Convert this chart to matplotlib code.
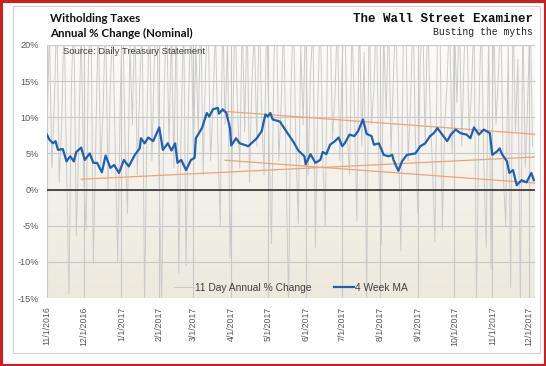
import matplotlib
matplotlib.use('Agg')
import matplotlib.pyplot as plt
import matplotlib.dates as mdates
from matplotlib.ticker import FuncFormatter
from matplotlib.patches import Rectangle
import numpy as np
import pandas as pd

# 4 week moving average
ma_dates = ['11/1/2016', '11/3/2016', '11/6/2016', '11/8/2016', '11/10/2016', '11/14/2016',
            '11/17/2016', '11/20/2016', '11/23/2016', '11/25/2016', '11/29/2016', '12/2/2016',
            '12/6/2016', '12/9/2016', '12/12/2016', '12/16/2016', '12/19/2016', '12/23/2016',
            '12/26/2016', '12/30/2016', '1/3/2017', '1/7/2017', '1/12/2017', '1/16/2017',
            '1/17/2017', '1/20/2017', '1/23/2017', '1/27/2017', '2/1/2017', '2/4/2017',
            '2/8/2017', '2/11/2017', '2/14/2017', '2/16/2017', '2/19/2017', '2/23/2017',
            '2/27/2017', '3/2/2017', '3/3/2017', '3/8/2017', '3/12/2017', '3/14/2017',
            '3/17/2017', '3/21/2017', '3/22/2017', '3/25/2017', '3/28/2017', '3/31/2017',
            '4/1/2017', '4/5/2017', '4/8/2017', '4/15/2017', '4/22/2017', '4/26/2017',
            '4/29/2017', '5/1/2017', '5/3/2017', '5/5/2017', '5/11/2017', '5/14/2017',
            '5/18/2017', '5/22/2017', '5/26/2017', '5/31/2017', '6/1/2017', '6/5/2017',
            '6/9/2017', '6/13/2017', '6/15/2017', '6/18/2017', '6/21/2017', '6/25/2017',
            '6/28/2017', '7/1/2017', '7/3/2017', '7/7/2017', '7/11/2017', '7/14/2017',
            '7/18/2017', '7/21/2017', '7/25/2017', '7/27/2017', '7/31/2017', '8/4/2017',
            '8/8/2017', '8/11/2017', '8/12/2017', '8/16/2017', '8/19/2017', '8/23/2017',
            '8/30/2017', '9/3/2017', '9/7/2017', '9/11/2017', '9/14/2017', '9/17/2017',
            '9/21/2017', '9/25/2017', '9/28/2017', '10/2/2017', '10/6/2017', '10/11/2017',
            '10/14/2017', '10/17/2017', '10/21/2017', '10/25/2017', '10/30/2017', '11/1/2017',
            '11/5/2017', '11/7/2017', '11/9/2017', '11/13/2017', '11/15/2017', '11/18/2017',
            '11/21/2017', '11/25/2017', '11/29/2017', '12/3/2017', '12/5/2017']
ma_values = [7.6, 6.9, 6.4, 6.7, 5.5, 5.6,
             3.9, 4.6, 3.9, 5.2, 5.8, 4.1,
             5.0, 3.7, 3.7, 2.4, 4.7, 3.0,
             3.4, 2.3, 4.1, 3.2, 4.8, 5.7,
             7.1, 6.4, 7.2, 6.7, 8.6, 5.5,
             6.4, 5.4, 6.4, 3.7, 4.1, 2.7,
             4.1, 4.4, 7.1, 8.5, 10.6, 10.1,
             11.1, 11.3, 10.5, 11.1, 10.6, 8.5,
             6.1, 7.1, 6.4, 6.0, 7.1, 8.1,
             10.4, 10.1, 10.6, 9.7, 9.4, 8.6,
             7.6, 6.6, 5.4, 4.6, 3.5, 4.9,
             3.7, 4.1, 5.2, 4.9, 6.2, 6.7,
             7.2, 6.0, 6.4, 7.6, 7.4, 8.1,
             9.7, 7.7, 7.4, 6.2, 6.4, 4.8,
             4.6, 4.8, 4.1, 2.6, 3.9, 4.8,
             5.0, 6.0, 6.4, 7.4, 7.8, 8.5,
             7.6, 6.7, 7.6, 8.3, 7.8, 7.6,
             7.1, 8.6, 7.6, 8.3, 7.8, 4.8,
             5.3, 5.7, 4.9, 3.9, 2.3, 2.7,
             0.6, 1.3, 1.0, 2.3, 1.3]

# 11 day annual % change, one value every 2 days from 11/1/2016
daily_start = '11/1/2016'
daily_values = [8, 22, 3, 12, 25, 1, 9, 24, 4, -14.5,
                14, 25, -6.4, 6, 23, 2, -5.6, 18, 25, -10.3,
                7, 24, 3, 11, 25, 0, 15, 22, 5, -10,
                12, 25, 6, -3.3, 20, 9, 25, 2, 14, 24,
                -16, 10, 25, 4, 18, 25, 1, -16, 13, 25,
                6, 22, 3, 25, -11.5, 9, 24, -10.5, 12, 25,
                5, 20, 8, 25, 2, 17, 25, 4, 11, 23,
                7, -5, 25, 9, 21, -9.5, 6, 25, 12, 3,
                24, 8, 25, 1, 15, 22, 6, 25, 10, 2,
                25, 7, -7.5, 18, 25, 4, 12, 24, 3, -16,
                14, 25, 6, -4.7, 20, 9, 25, 2, 16, 23,
                -8, 12, 25, 5, -5, 21, 25, 7, 13, 24,
                4, 18, 25, 8, 2, 23, 11, -4.3, 25, 6,
                19, -16, 25, 9, 14, 25, 3, -7.7, 22, 10,
                25, 5, 16, 24, 8, -8.5, 20, 25, 4, 12,
                25, 7, -3.4, 18, 24, 6, 25, 11, 3, -7.2,
                21, 25, -5.6, 9, 15, 25, 5, 23, 12, 25,
                6, 19, 25, 8, 14, 24, -16, 10, 25, 4,
                -8, 22, -11, 25, 9, 16, 25, 2, -5, 20,
                -13.5, 25, 8, 18, -16, 24, 3, 12, 25, 6]

# trend lines (start, end)
trend_dates = [['3/24/2017', '12/6/2017'], ['11/29/2016', '12/6/2017'], ['3/27/2017', '12/6/2017']]
trend_values = [[10.85, 7.65], [1.43, 4.5], [4.06, 0.9]]

y_ticks = [-15, -10, -5, 0, 5, 10, 15, 20]

ma_x = pd.to_datetime(ma_dates, format='%m/%d/%Y')
daily_x = pd.date_range(pd.to_datetime(daily_start, format='%m/%d/%Y'), periods=len(daily_values), freq='2D')

fig = plt.figure(figsize=(5.46, 3.66), dpi=100)
ax = fig.add_axes([47 / 546, 1 - 298 / 366, 488 / 546, 253 / 366])

# background gradient
grad = np.linspace(0, 1, 100).reshape(-1, 1)
top_c = np.array([252, 251, 249]) / 255
bot_c = np.array([237, 233, 221]) / 255
img = top_c * (1 - grad[..., None]) + bot_c * grad[..., None]
img = np.repeat(img, 2, axis=1)
ax.imshow(img, extent=[0, 1, 0, 1], transform=ax.transAxes, aspect='auto', zorder=0)

ax.plot(daily_x, daily_values, color='#cbcbcb', lw=0.7, zorder=2, label='11 Day Annual % Change')
for d, v in zip(trend_dates, trend_values):
    ax.plot(pd.to_datetime(d, format='%m/%d/%Y'), v, color='#f0a274', lw=0.9, zorder=3)
ax.plot(ma_x, ma_values, color='#1f60b4', lw=1.6, zorder=4, label='4 Week MA')
ax.axhline(0, color='#222222', lw=1.1, zorder=3)

ax.set_xlim(pd.Timestamp('2016-11-01'), pd.Timestamp('2017-12-06'))
ax.set_ylim(-15, 20)
ax.set_yticks(y_ticks)
ax.yaxis.set_major_formatter(FuncFormatter(lambda v, p: '%d%%' % v))
ax.xaxis.set_major_locator(mdates.MonthLocator(bymonthday=1))
ax.xaxis.set_major_formatter(FuncFormatter(
    lambda v, p: '%d/%d/%d' % (mdates.num2date(v).month, mdates.num2date(v).day, mdates.num2date(v).year)))
ax.grid(True, color='#c8c8c8', lw=0.8, zorder=1)
ax.set_axisbelow(True)
ax.tick_params(axis='both', length=0, colors='#595959')
ax.tick_params(axis='y', labelsize=6.6, pad=6)
ax.tick_params(axis='x', labelsize=6.3, pad=6, labelrotation=90)
for lab in ax.get_xticklabels() + ax.get_yticklabels():
    lab.set_fontfamily('Liberation Sans')
for s in ax.spines.values():
    s.set_visible(False)

leg = ax.legend(loc='lower center', bbox_to_anchor=(0.5, -0.015), ncol=2, frameon=False,
                handlelength=1.9, handletextpad=0.1, columnspacing=2.2,
                prop={'family': 'Liberation Sans', 'size': 7.4})
for t in leg.get_texts():
    t.set_color('#404040')

# titles and branding
fig.text(50 / 546, 1 - 18 / 366, 'Witholding Taxes', fontsize=8.3, fontweight='bold',
         family='Lato', va='center', color='#111111')
fig.text(50 / 546, 1 - 33 / 366, 'Annual % Change (Nominal)', fontsize=8.3, fontweight='bold',
         family='Lato', va='center', color='#111111')
fig.text(63 / 546, 1 - 52 / 366, 'Source: Daily Treasury Statement', fontsize=6.8,
         family='Liberation Sans', va='center', color='#404040')
fig.text(533 / 546, 1 - 19 / 366, 'The Wall Street Examiner', fontsize=9, fontweight='bold',
         family='Liberation Mono', ha='right', va='center', color='#111111')
fig.text(533 / 546, 1 - 32 / 366, 'Busting the myths', fontsize=7, family='Liberation Mono',
         ha='right', va='center', color='#222222')

# frames
fig.patches.append(Rectangle((13 / 546, 1 - 353 / 366), 527 / 546, 347 / 366, transform=fig.transFigure,
                             fill=False, edgecolor='#d0d0d0', lw=0.8))
fig.patches.append(Rectangle((0.002, 0.003), 0.996, 0.994, transform=fig.transFigure,
                             fill=False, edgecolor='#cc2020', lw=2.2))

fig.savefig('out.png', dpi=100)
